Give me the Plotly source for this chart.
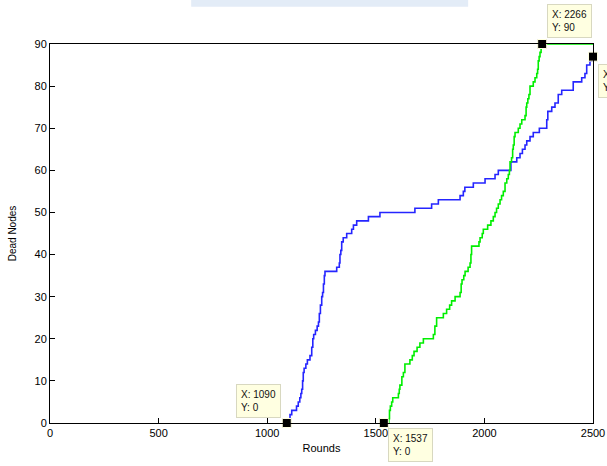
import plotly.graph_objects as go

# Blue series: (round at which count changes, dead nodes)
blue_x = [1090, 1097, 1105, 1113, 1135, 1143, 1150, 1155, 1159, 1163, 1166, 1170, 1178, 1185,
          1197, 1205, 1210, 1214, 1222, 1230, 1236, 1240, 1245, 1251, 1255, 1259, 1263, 1266,
          1320, 1332, 1335, 1339, 1343, 1350, 1366, 1389, 1397, 1412, 1466, 1519, 1680, 1757,
          1788, 1888, 1903, 1910, 1949, 2003, 2049, 2064, 2122, 2149, 2164, 2175, 2187, 2195,
          2210, 2225, 2253, 2287, 2292, 2310, 2325, 2340, 2356, 2409, 2448, 2463, 2471, 2486,
          2495, 2500]
blue_y = [0, 1, 2, 3, 4, 5, 6, 7, 8, 10, 12, 13, 14, 15,
          16, 18, 20, 21, 22, 23, 24, 26, 28, 30, 31, 33, 35, 36,
          37, 38, 40, 41, 43, 44, 45, 46, 47, 48, 49, 50, 51, 52,
          53, 54, 55, 56, 57, 58, 59, 60, 62, 63, 64, 65, 66, 67,
          68, 69, 70, 72, 74, 75, 76, 78, 79, 81, 82, 83, 85, 86,
          87, 87]

# Green series
green_x = [1537, 1560, 1563, 1567, 1573, 1578, 1604, 1608, 1611, 1620, 1627, 1634, 1657, 1668,
           1676, 1690, 1703, 1719, 1765, 1772, 1780, 1811, 1826, 1840, 1849, 1865, 1888, 1893,
           1897, 1905, 1911, 1925, 1934, 1938, 1941, 1975, 1980, 1990, 1995, 2015, 2030, 2041,
           2049, 2056, 2064, 2072, 2079, 2087, 2095, 2103, 2110, 2115, 2118, 2125, 2130, 2133,
           2137, 2141, 2156, 2164, 2172, 2187, 2192, 2195, 2200, 2205, 2210, 2225, 2233, 2241,
           2245, 2248, 2252, 2256, 2261, 2266, 2500]
green_y = [0, 1, 3, 4, 5, 6, 7, 8, 9, 11, 12, 14, 15, 16,
           17, 18, 19, 20, 21, 23, 25, 26, 27, 28, 29, 30, 31, 33,
           34, 35, 36, 37, 38, 40, 42, 43, 44, 45, 46, 47, 48, 49,
           50, 51, 52, 53, 54, 55, 57, 58, 59, 60, 62, 63, 65, 66,
           68, 69, 70, 71, 72, 73, 75, 76, 77, 78, 80, 81, 82, 83,
           84, 86, 87, 88, 89, 90, 90]

# Data tips
tip_x = [1090, 1537, 2266, 2500]
tip_y = [0, 0, 90, 87]

x_ticks = [0, 500, 1000, 1500, 2000, 2500]
y_ticks = [0, 10, 20, 30, 40, 50, 60, 70, 80, 90]

fig = go.Figure()
fig.add_trace(go.Scatter(x=blue_x, y=blue_y, mode="lines", line=dict(color="#2525ff", width=1.6, shape="hv"),
                         cliponaxis=False, showlegend=False))
fig.add_trace(go.Scatter(x=green_x, y=green_y, mode="lines", line=dict(color="#00ee00", width=1.6, shape="hv"),
                         cliponaxis=False, showlegend=False))
fig.add_trace(go.Scatter(x=tip_x, y=tip_y, mode="markers",
                         marker=dict(symbol="square", size=9, color="black", line=dict(color="#ffffe1", width=1)),
                         cliponaxis=False, showlegend=False))

tip_style = [
    dict(xanchor="right", yanchor="bottom", xshift=-6, yshift=5),
    dict(xanchor="left", yanchor="top", xshift=4, yshift=-5),
    dict(xanchor="left", yanchor="bottom", xshift=5, yshift=6),
    dict(xanchor="left", yanchor="top", xshift=5, yshift=-7),
]
for tx, ty, st in zip(tip_x, tip_y, tip_style):
    fig.add_annotation(x=tx, y=ty, xref="x", yref="y", text=f"X: {tx}<br>Y: {ty}", showarrow=False,
                       align="left", bgcolor="#ffffe1", bordercolor="#d8d8c0", borderwidth=1, borderpad=4,
                       font=dict(family="Liberation Sans, Arial", size=10, color="#111111"), **st)

# faint watermark at top
fig.add_shape(type="rect", xref="paper", yref="paper", x0=0.26, x1=0.77, y0=1.098, y1=1.12,
              fillcolor="#dce7f5", line=dict(width=0), layer="below", opacity=0.8)

axis_common = dict(showline=True, linecolor="black", linewidth=1, mirror=True, ticks="inside",
                   ticklen=5, tickcolor="black", showgrid=False, zeroline=False, automargin=False,
                   tickfont=dict(family="Liberation Sans, Arial", size=11, color="black"))
fig.update_xaxes(range=[0, 2500], tickvals=x_ticks, title=dict(text="Rounds", standoff=6,
                 font=dict(family="Liberation Sans, Arial", size=11, color="black")), **axis_common)
fig.update_yaxes(range=[0, 90], tickvals=y_ticks, title=dict(text="Dead Nodes", standoff=16,
                 font=dict(family="Liberation Sans, Arial", size=10, color="black")), **axis_common)

fig.update_layout(width=607, height=466, margin=dict(l=50, r=14, t=44, b=43),
                  paper_bgcolor="white", plot_bgcolor="white")
fig.write_html("out.html", config={"displayModeBar": False},
               post_script="document.body.style.margin='0px';document.body.style.overflow='hidden';")
